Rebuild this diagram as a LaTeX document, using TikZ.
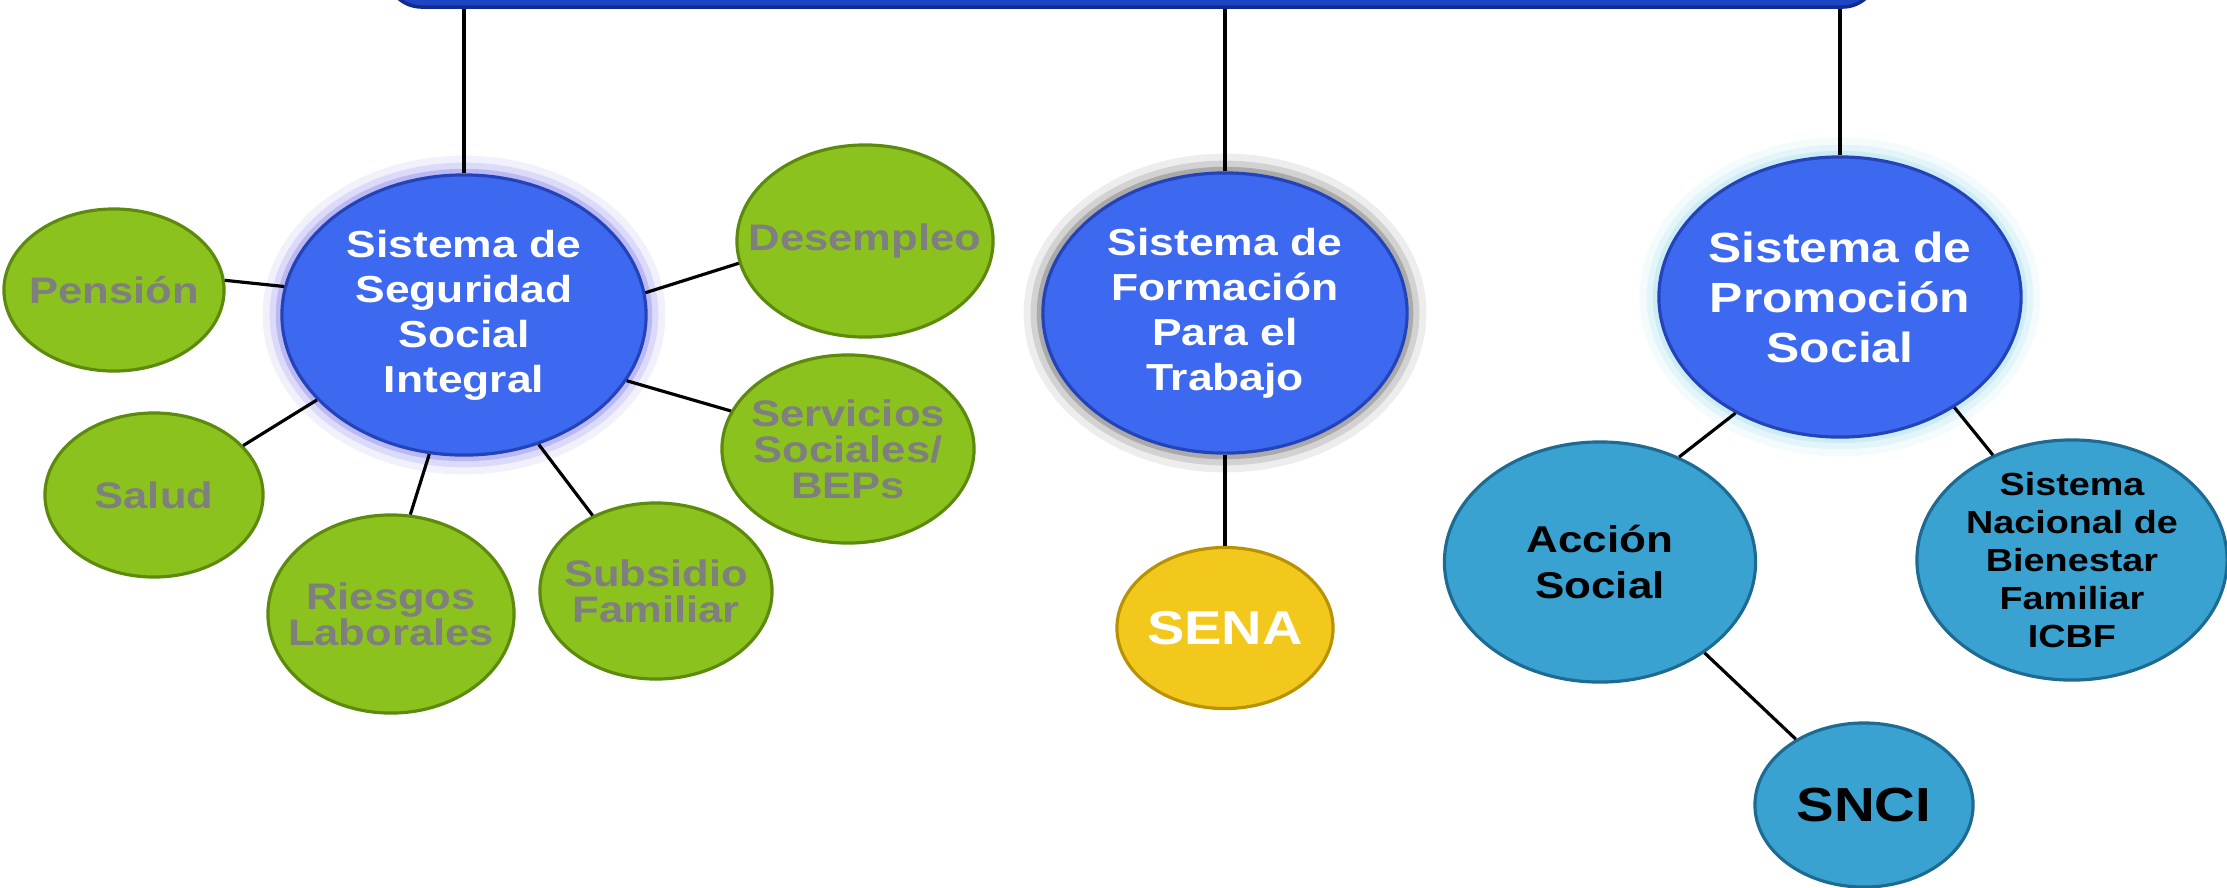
\documentclass[tikz,border=0pt]{standalone}
\usepackage{fontspec}
\newfontfamily\bubblefont{Liberation Sans}[FakeStretch=1.18]
\usetikzlibrary{shapes.geometric}

\definecolor{bannerblue}{HTML}{1E46C4}
\definecolor{banneredge}{HTML}{0F2C8E}
\definecolor{sysblue}{HTML}{3D68F0}
\definecolor{sysrim}{HTML}{7EA2FF}
\definecolor{sysedge}{HTML}{2443B8}
\definecolor{leafgreen}{HTML}{8CC21E}
\definecolor{leafrim}{HTML}{BDE85A}
\definecolor{leafedge}{HTML}{5C8A0C}
\definecolor{leaftext}{HTML}{7F7F7F}
\definecolor{senayellow}{HTML}{F3C81C}
\definecolor{senarim}{HTML}{FFE878}
\definecolor{senaedge}{HTML}{B89200}
\definecolor{subcyan}{HTML}{3AA2D0}
\definecolor{subrim}{HTML}{7AD4F4}
\definecolor{subedge}{HTML}{1D6A92}
\definecolor{glowviolet}{HTML}{8C88EA}
\definecolor{glowgray}{HTML}{6E6E6E}
\definecolor{glowcyan}{HTML}{A8E0F0}

\pgfdeclareradialshading{blueshade}{\pgfpoint{0bp}{6bp}}{color(0bp)=(sysblue); color(37bp)=(sysblue); color(52bp)=(sysrim); color(60bp)=(sysrim)}
\pgfdeclareradialshading{greenshade}{\pgfpoint{0bp}{6bp}}{color(0bp)=(leafgreen); color(37bp)=(leafgreen); color(52bp)=(leafrim); color(60bp)=(leafrim)}
\pgfdeclareradialshading{yellowshade}{\pgfpoint{0bp}{6bp}}{color(0bp)=(senayellow); color(37bp)=(senayellow); color(52bp)=(senarim); color(60bp)=(senarim)}
\pgfdeclareradialshading{cyanshade}{\pgfpoint{0bp}{6bp}}{color(0bp)=(subcyan); color(37bp)=(subcyan); color(52bp)=(subrim); color(60bp)=(subrim)}

\tikzset{
    bubble/.style={ellipse,inner sep=-2cm,align=center,line width=0.9pt,shade},
    glow/.style={preaction={draw=#1,line width=11pt,draw opacity=.12},
                 preaction={draw=#1,line width=7pt,draw opacity=.22},
                 preaction={draw=#1,line width=3.5pt,draw opacity=.4}},
    sysnode/.style={bubble,shading=blueshade,draw=sysedge,text=white,
                    minimum width=3.64cm,minimum height=2.8cm,
                    font=\bubblefont\bfseries\fontsize{10.7}{12.8}\selectfont},
    leaf/.style={bubble,shading=greenshade,draw=leafedge,text=leaftext,
                 font=\bubblefont\bfseries\fontsize{10.5}{10.2}\selectfont},
    subnode/.style={bubble,shading=cyanshade,draw=subedge,text=black,
                    font=\bubblefont\bfseries\fontsize{10.6}{12.8}\selectfont},
    link/.style={line width=0.9pt,black}
}

\begin{document}
\begin{tikzpicture}[x=0.01cm,y=-0.01cm]
        \useasboundingbox (0,0) rectangle (2227,887);
        \node[rectangle,rounded corners=0.35cm,fill=bannerblue,draw=banneredge,line width=1pt,minimum width=14.9cm,minimum height=0.8cm](banner) at (1132,-33){};
        % sistemas
        \node[sysnode,glow=glowviolet](sssi) at (464,315){Sistema de\\Seguridad\\Social\\Integral};
        \node[sysnode,glow=glowgray](sfpt) at (1225,313){Sistema de\\Formación\\Para el\\Trabajo};
        \node[sysnode,glow=glowcyan,minimum width=3.62cm,font=\bubblefont\bfseries\fontsize{12}{14.2}\selectfont](sps) at (1840,297){Sistema de\\Promoción\\Social};
        % seguridad social
        \node[leaf,minimum width=2.2cm,minimum height=1.62cm](pension) at (114,290){Pensión};
        \node[leaf,minimum width=2.18cm,minimum height=1.64cm](salud) at (154,495){Salud};
        \node[leaf,minimum width=2.46cm,minimum height=1.98cm](riesgos) at (391,614){Riesgos\\Laborales};
        \node[leaf,minimum width=2.32cm,minimum height=1.76cm](subsidio) at (656,591){Subsidio\\Familiar};
        \node[leaf,minimum width=2.52cm,minimum height=1.88cm](servicios) at (848,449){Servicios\\Sociales/\\BEPs};
        \node[leaf,minimum width=2.56cm,minimum height=1.92cm](desempleo) at (865,241){Desempleo};
        % formacion
        \node[bubble,shading=yellowshade,draw=senaedge,text=white,minimum width=2.16cm,minimum height=1.61cm,font=\bubblefont\bfseries\fontsize{13.5}{15}\selectfont](sena) at (1225,628){SENA};
        % promocion
        \node[subnode,minimum width=3.11cm,minimum height=2.4cm](accion) at (1600,562){Acción\\Social};
        \node[subnode,minimum width=3.1cm,minimum height=2.4cm,font=\bubblefont\bfseries\fontsize{9.1}{10.8}\selectfont](snbf) at (2072,560){Sistema\\Nacional de\\Bienestar\\Familiar\\ICBF};
        \node[subnode,minimum width=2.18cm,minimum height=1.64cm,font=\bubblefont\bfseries\fontsize{13.6}{15}\selectfont](snci) at (1864,805){SNCI};
        % conectores
        \draw[link](sssi.north)--(sssi.north |- banner.south);
        \draw[link](sfpt.north)--(sfpt.north |- banner.south);
        \draw[link](sps.north)--(sps.north |- banner.south);
        \draw[link](sssi.171)--(pension.5);
        \draw[link](sssi.210)--(salud.29);
        \draw[link](sssi.256)--(riesgos.79);
        \draw[link](sssi.300)--(subsidio.130);
        \draw[link](sssi.338)--(servicios.162);
        \draw[link](sssi.7)--(desempleo.190);
        \draw[link](sfpt.south)--(sena.north);
        \draw[link](sps.228)--(accion.53);
        \draw[link](sps.316)--(snbf.127);
        \draw[link](accion.319)--(snci.136);
    \end{tikzpicture}
\end{document}
